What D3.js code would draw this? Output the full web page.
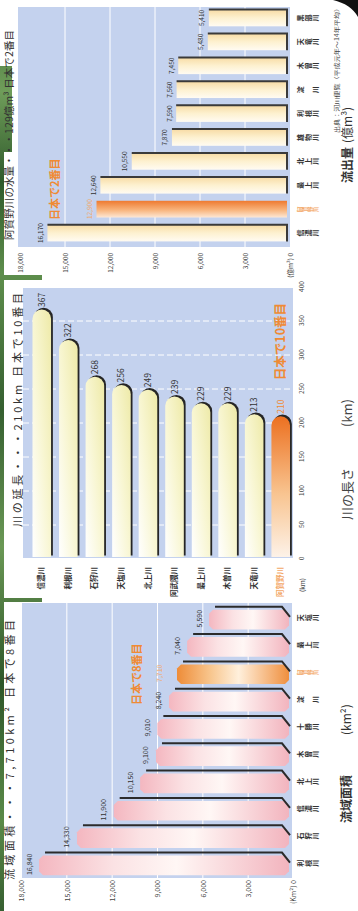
<!DOCTYPE html>
<html><head><meta charset="utf-8">
<script src="https://cdn.jsdelivr.net/npm/d3@7"></script>
<style>
html,body{margin:0;padding:0;background:#fff;}
svg{display:block;}
text{font-family:"Noto Sans CJK JP","Noto Sans",sans-serif;}
</style></head><body>
<svg id="c" width="358" height="911"></svg>
<script>
// ---------- DATA ----------
const areaRivers = ["利根川","石狩川","信濃川","北上川","木曽川","十勝川","淀　川","阿賀野川","最上川","天塩川"];
const areaValues = [16840,14330,11900,10150,9100,9010,8240,7710,7040,5590];
const areaTicks = [0,3000,6000,9000,12000,15000,18000];

const lengthRivers = ["信濃川","利根川","石狩川","天塩川","北上川","阿武隈川","最上川","木曽川","天竜川","阿賀野川"];
const lengthValues = [367,322,268,256,249,239,229,229,213,210];
const lengthTicks = [0,50,100,150,200,250,300,350,400];

const flowRivers = ["信濃川","阿賀野川","最上川","北上川","雄物川","利根川","淀　川","木曽川","天竜川","黒部川"];
const flowValues = [16170,12900,12640,10550,7870,7590,7560,7450,5480,5410];
const flowTicks = [0,3000,6000,9000,12000,15000,18000];

const highlight = "阿賀野川";
const areaTitle = "流域面積・・・7,710km² 日本で8番目";
const lengthTitle = "川の延長・・・210km 日本で10番目";
const flowTitle = "阿賀野川の水量・・・129億m³ 日本で2番目";
const areaRank = "日本で8番目";
const lengthRank = "日本で10番目";
const flowRank = "日本で2番目";
const areaAxisTitle = ["流域面積","(km²)"];
const lengthAxisTitle = ["川の長さ","(km)"];
const flowAxisTitle = ["流出量","(億m³)"];
const flowSource = "出典：河川便覧（平成元年～14年平均）";

// ---------- SETUP ----------
const W = 911;
const bgBlue = "#c4d2ee";
const orange = "#f08a34";
const orangeLight = "#f3a766";
const svg = d3.select("#c");
const defs = svg.append("defs");
function lg(id, stops, x2, y2){
  const gr = defs.append("linearGradient").attr("id",id)
    .attr("x1",0).attr("y1",0).attr("x2",x2).attr("y2",y2);
  stops.forEach(s=>gr.append("stop").attr("offset",s[0]).attr("stop-color",s[1]));
}
lg("gFlow",[[0,"#fffbf2"],[0.5,"#fdf1d0"],[1,"#f7dba4"]],1,0);
lg("gFlowHi",[[0,"#fde8d6"],[0.45,"#f8b47c"],[1,"#ee7a30"]],1,0);
lg("gArea",[[0,"#f4b7c0"],[0.3,"#fbe2e4"],[0.55,"#fff7f5"],[1,"#f2b4be"]],0,1);
lg("gAreaHi",[[0,"#ee8c38"],[0.3,"#f8c68e"],[0.55,"#fff0dc"],[1,"#ef8f3e"]],0,1);
lg("gLen",[[0,"#ffffff"],[0.5,"#f8f6d2"],[1,"#eeeaa8"]],1,1);
lg("gLenHi",[[0,"#fdf2e8"],[0.45,"#f8c490"],[1,"#ec7020"]],1,0);
const gGreen = defs.append("linearGradient").attr("id","gGreen").attr("gradientUnits","userSpaceOnUse")
  .attr("x1",0).attr("y1",0).attr("x2",0).attr("y2",911);
[[0,"#3d6a35"],[0.1,"#6f9d5a"],[0.2,"#2f5a2b"],[0.3,"#5e8e4c"],[0.45,"#355f30"],[0.6,"#6a9855"],[0.75,"#2e5629"],[0.9,"#5a8a48"],[1,"#365f31"]]
  .forEach(s=>gGreen.append("stop").attr("offset",s[0]).attr("stop-color",s[1]));

// decorations (page coordinates)
svg.append("rect").attr("x",0).attr("y",66).attr("width",12).attr("height",86).attr("fill","url(#gGreen)");
svg.append("rect").attr("x",0).attr("y",150).attr("width",4).attr("height",761).attr("fill","url(#gGreen)");
svg.append("rect").attr("x",0).attr("y",275).attr("width",42).attr("height",5).attr("fill","url(#gGreen)");
svg.append("rect").attr("x",0).attr("y",598).attr("width",42).attr("height",4).attr("fill","url(#gGreen)");
svg.append("path").attr("d","M333,0 L358,0 L358,17 C353,8 345,3 333,0 Z").attr("fill","#111");

// rotated drawing frame (chart drawn upright, page turned)
const g = svg.append("g").attr("transform",`translate(0,${W}) rotate(-90)`);

function vlabel(parent, label, cx, y0, len, fmax, color){
  const chars = Array.from(label);
  const step = len / chars.length;
  const fs = Math.min(fmax, step);
  const t = parent.append("text").attr("text-anchor","middle").attr("font-size",fs)
    .attr("font-weight",700).attr("fill",color);
  chars.forEach((ch,i)=>{
    t.append("tspan").attr("x",cx).attr("y",y0 + step*(i+1) - 0.15*fs).text(ch);
  });
}
function styleAxis(sel, fs){
  sel.select(".domain").remove();
  sel.attr("font-family",'"Noto Sans CJK JP","Noto Sans",sans-serif').attr("font-size",fs);
  sel.selectAll("text").attr("fill","#444");
}
const fmt = d3.format(",");

// ================= PANEL A : 流域面積 =================
(function(){
  const box = {x0:33,x1:308,y0:22,y1:292};
  const y = d3.scaleLinear().domain([0,18000]).range([293.5,21.5]);
  const x = d3.scaleBand().domain(areaRivers).range([32,305]).paddingInner(0.28).paddingOuter(0.14);
  const data = areaRivers.map((r,i)=>({r, v:areaValues[i]}));
  const p = g.append("g");
  p.append("rect").attr("x",box.x0).attr("y",box.y0).attr("width",box.x1-box.x0).attr("height",box.y1-box.y0).attr("fill",bgBlue);
  p.selectAll("line.grid").data(areaTicks.filter(t=>t>0&&t<18000)).join("line")
    .attr("x1",box.x0).attr("x2",box.x1).attr("y1",d=>y(d)).attr("y2",d=>y(d))
    .attr("stroke","#fff").attr("stroke-width",1);
  const base = y(0)-4.5, c = 4;
  p.selectAll("path.bar").data(data).join("path")
    .attr("d",d=>{const xl=x(d.r), xr=xl+x.bandwidth(), yt=y(d.v), yb=base;
      return `M${xl},${yt+c}L${xl+c},${yt}L${xr-c},${yt}L${xr},${yt+c}L${xr},${yb-c}L${xr-c},${yb}L${xl+c},${yb}L${xl},${yb-c}Z`;})
    .attr("fill",d=>d.r===highlight?"url(#gAreaHi)":"url(#gArea)");
  p.selectAll("path.edge").data(data).join("path")
    .attr("d",d=>{const xr=x(d.r)+x.bandwidth(), yt=y(d.v);
      return `M${xr+3},${yt+6}L${xr+3},${base-7}L${xr-7},${base+1}`;})
    .attr("fill","none").attr("stroke","#2b2b2b").attr("stroke-width",2);
  p.selectAll("text.val").data(data).join("text")
    .attr("x",d=>x(d.r)+x.bandwidth()/2+1)
    .attr("y",d=>y(d.v)-(d.r===highlight?14.5:7.5))
    .attr("text-anchor","middle").attr("font-size",7)
    .attr("fill",d=>d.r===highlight?orangeLight:"#333")
    .text(d=>fmt(d.v));
  data.forEach(d=>vlabel(p,d.r,x(d.r)+x.bandwidth()/2+2,297,22,7,d.r===highlight?orangeLight:"#333"));
  const hi = data.find(d=>d.r===highlight);
  p.append("text").attr("x",x(hi.r)+x.bandwidth()/2).attr("y",y(hi.v)-36)
    .attr("text-anchor","middle").attr("font-size",11).attr("font-weight",700).attr("fill",orange).text(areaRank);
  p.append("g").attr("transform","translate(31,0)")
    .call(d3.axisLeft(y).tickValues(areaTicks).tickSize(0).tickPadding(0)
      .tickFormat(d=>d===0?"(Km²) 0":fmt(d)))
    .call(s=>styleAxis(s,7));
  p.append("text").attr("x",31).attr("y",14).attr("font-size",11).attr("fill","#333")
    .attr("textLength",260).attr("lengthAdjust","spacing").text(areaTitle);
  const at = p.append("text").attr("y",351).attr("font-size",12).attr("font-weight",700).attr("fill","#333");
  at.append("tspan").attr("x",88).text(areaAxisTitle[0]);
  at.append("tspan").attr("x",176).attr("font-weight",400).text(areaAxisTitle[1]);
})();

// ================= PANEL B : 川の長さ =================
(function(){
  const box = {x0:353,x1:623,y0:23,y1:293};
  const x = d3.scaleLinear().domain([0,400]).range([352,624]);
  const y = d3.scaleBand().domain(lengthRivers).range([28.5,294]).paddingInner(0.3).paddingOuter(0.15);
  const data = lengthRivers.map((r,i)=>({r, v:lengthValues[i]}));
  const p = g.append("g");
  p.append("rect").attr("x",box.x0).attr("y",box.y0).attr("width",box.x1-box.x0).attr("height",box.y1-box.y0).attr("fill",bgBlue);
  p.selectAll("line.grid").data(lengthTicks.filter(t=>t>0&&t<400)).join("line")
    .attr("x1",d=>x(d)).attr("x2",d=>x(d)).attr("y1",box.y0).attr("y2",box.y1)
    .attr("stroke","#fff").attr("stroke-width",1).attr("stroke-dasharray","6,3");
  const bw = y.bandwidth(), r = bw/2;
  const pathFor = d=>{const x0=x(0)+2, x1=x(d.v), yt=y(d.r);
    return `M${x0},${yt}L${x1-r},${yt}A${r},${r} 0 0 1 ${x1-r},${yt+bw}L${x0},${yt+bw}Z`;};
  p.selectAll("path.shadow").data(data).join("path").attr("d",pathFor)
    .attr("transform","translate(1.6,1.8)").attr("fill","#262626");
  p.selectAll("path.bar").data(data).join("path").attr("d",pathFor)
    .attr("fill",d=>d.r===highlight?"url(#gLenHi)":"url(#gLen)");
  p.selectAll("text.val").data(data).join("text")
    .attr("x",d=>x(d.v)+2.5).attr("y",d=>y(d.r)+bw/2+3)
    .attr("font-size",8.5).attr("fill",d=>d.r===highlight?orange:"#333").text(d=>d.v);
  p.selectAll("text.cat").data(data).join("text")
    .attr("x",344).attr("y",d=>y(d.r)+bw/2+2.6).attr("text-anchor","end")
    .attr("font-size",7.5).attr("font-weight",700)
    .attr("fill",d=>d.r===highlight?orangeLight:"#333").text(d=>d.r);
  const hi = data.find(d=>d.r===highlight);
  p.append("text").attr("x",x(hi.v)+36).attr("y",y(hi.r)+bw/2+4.5)
    .attr("font-size",12.5).attr("font-weight",700).attr("fill",orange).text(lengthRank);
  p.append("g").attr("transform","translate(0,299)")
    .call(d3.axisBottom(x).tickValues(lengthTicks).tickSize(0).tickPadding(0).tickFormat(d=>d))
    .call(s=>styleAxis(s,6.5));
  p.append("text").attr("x",326).attr("y",304.5).attr("text-anchor","middle").attr("font-size",6.5).attr("fill","#444").text("(km)");
  p.append("text").attr("x",384).attr("y",21.5).attr("font-size",11).attr("fill","#333")
    .attr("textLength",234).attr("lengthAdjust","spacing").text(lengthTitle);
  const at = p.append("text").attr("y",351.5).attr("font-size",13).attr("fill","#444");
  at.append("tspan").attr("x",391).text(lengthAxisTitle[0]);
  at.append("tspan").attr("x",484).text(lengthAxisTitle[1]);
})();

// ================= PANEL C : 流出量 =================
(function(){
  const box = {x0:664,x1:904,y0:18,y1:290};
  const y = d3.scaleLinear().domain([0,18000]).range([290,20]);
  const x = d3.scaleBand().domain(flowRivers).range([666,905]).paddingInner(0.3).paddingOuter(0.15);
  const data = flowRivers.map((r,i)=>({r, v:flowValues[i]}));
  const p = g.append("g");
  p.append("rect").attr("x",box.x0).attr("y",box.y0).attr("width",box.x1-box.x0).attr("height",box.y1-box.y0).attr("fill",bgBlue);
  p.selectAll("line.grid").data(flowTicks.filter(t=>t>0&&t<18000)).join("line")
    .attr("x1",box.x0).attr("x2",box.x1).attr("y1",d=>y(d)).attr("y2",d=>y(d))
    .attr("stroke","#fff").attr("stroke-width",1);
  const base = y(0)-3, bw = x.bandwidth();
  p.selectAll("rect.bar").data(data).join("rect")
    .attr("x",d=>x(d.r)).attr("y",d=>y(d.v)).attr("width",bw).attr("height",d=>base-y(d.v))
    .attr("fill",d=>d.r===highlight?"url(#gFlowHi)":"url(#gFlow)");
  p.selectAll("path.edge").data(data.filter(d=>d.r!==highlight)).join("path")
    .attr("d",d=>{const xl=x(d.r), xr=xl+bw; return `M${xr},${y(d.v)}L${xr},${base}L${xl},${base}`;})
    .attr("fill","none").attr("stroke","#3a3a3a").attr("stroke-width",2);
  p.selectAll("text.val").data(data).join("text")
    .attr("x",d=>x(d.r)+bw/2).attr("y",d=>y(d.v)-4.5)
    .attr("text-anchor","middle").attr("font-size",6.5)
    .attr("fill",d=>d.r===highlight?orangeLight:"#333").text(d=>fmt(d.v));
  data.forEach(d=>vlabel(p,d.r,x(d.r)+bw/2,297,22,7,d.r===highlight?orangeLight:"#333"));
  const hi = data.find(d=>d.r===highlight);
  p.append("text").attr("x",x(hi.r)+bw/2+20).attr("y",y(hi.v)-38)
    .attr("text-anchor","middle").attr("font-size",11).attr("font-weight",700).attr("fill",orange).text(flowRank);
  p.append("g").attr("transform","translate(658,0)")
    .call(d3.axisLeft(y).tickValues(flowTicks).tickSize(0).tickPadding(0)
      .tickFormat(d=>d===0?"(億m³) 0":fmt(d)))
    .call(s=>styleAxis(s,6.5));
  p.append("text").attr("x",671).attr("y",12.5).attr("font-size",10.5).attr("fill","#333")
    .attr("textLength",210).attr("lengthAdjust","spacing").text(flowTitle);
  const at = p.append("text").attr("y",351.5).attr("font-size",12).attr("font-weight",700).attr("fill","#333");
  at.append("tspan").attr("x",728).text(flowAxisTitle[0]);
  at.append("tspan").attr("x",768).attr("font-weight",400).text(flowAxisTitle[1]);
  p.append("text").attr("x",778).attr("y",339).attr("font-size",5.5).attr("fill","#444")
    .attr("textLength",128).attr("lengthAdjust","spacingAndGlyphs").text(flowSource);
})();
</script>
</body></html>
